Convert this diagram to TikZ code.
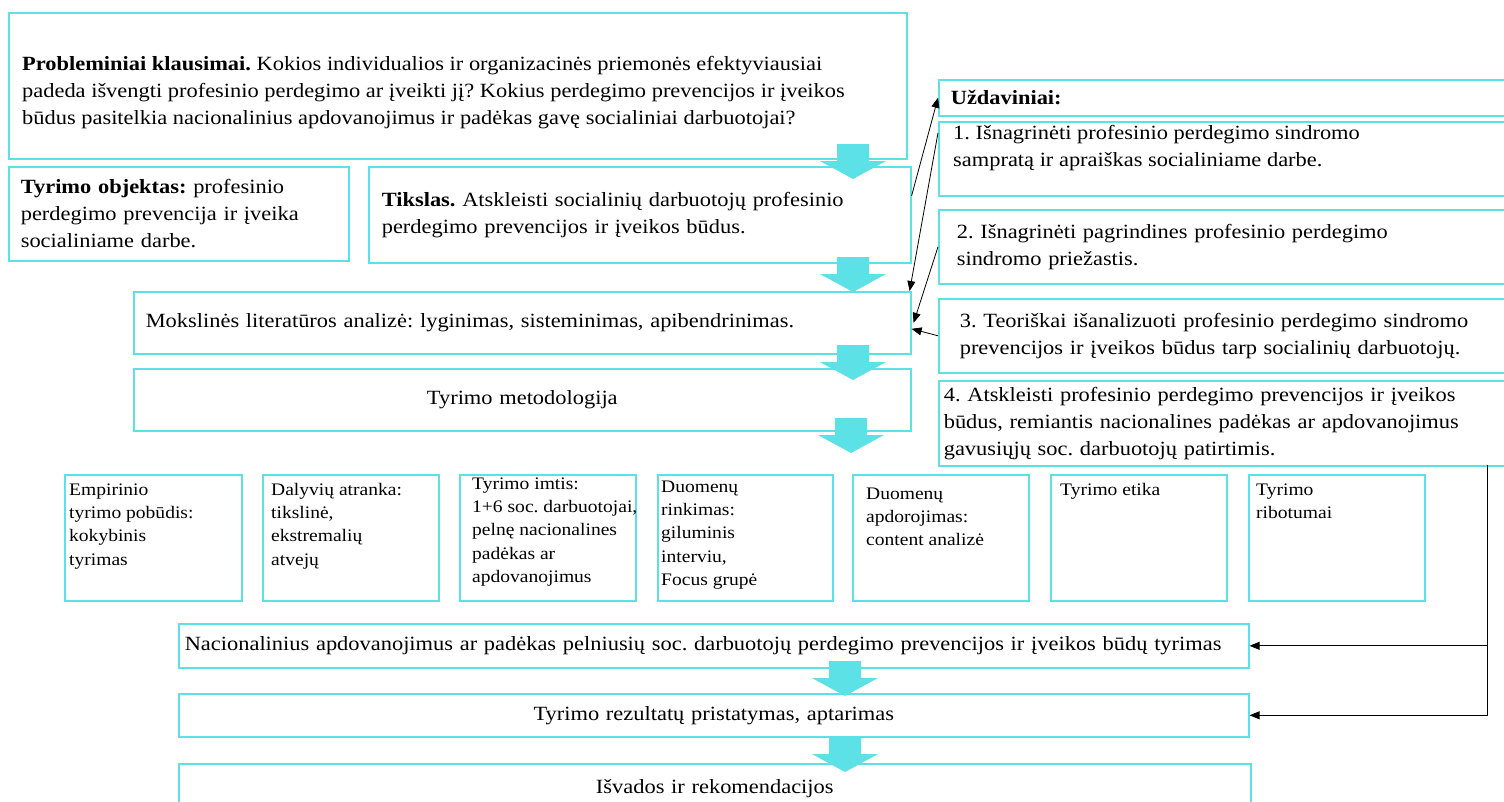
\documentclass[tikz,border=0pt]{standalone}
\usepackage{fontspec}
\setmainfont{Liberation Serif}[FakeStretch=1.11]
\usetikzlibrary{arrows.meta}
\definecolor{aqua}{HTML}{5CE1E6}
\newcommand\bigfont{\fontsize{20.2}{27}\selectfont}
\newcommand\smallfont{\fontsize{17.6}{23.4}\selectfont}
\frenchspacing
\begin{document}
\begin{tikzpicture}[x=1pt,y=-1pt,
  frame/.style={draw=aqua, line width=1.6pt, rectangle, inner sep=0pt, anchor=north west},
  big/.style={frame, font=\bigfont},
  cell/.style={frame, minimum height=126pt},
  btext/.style={inner sep=0pt, anchor=base west, font=\bigfont},
  ctext/.style={inner sep=0pt, anchor=base west, font=\smallfont},
  conn/.style={draw=black, line width=0.8pt, -{Triangle[length=10pt,width=8pt]}},
  downarrow/.pic={\fill[aqua] (-16,0) -- (16,0) -- (16,17) -- (33,17) -- (0,35) -- (-33,17) -- (-16,17) -- cycle;}
]
\useasboundingbox (0,0) rectangle (1504,801);

% --- left column: questions, object, aim, methods
\node[big, minimum width=898pt, minimum height=146pt] (prob) at (8,12) {};
\node[btext] (probtext) at ([shift={(14,58.5)}]prob.north west)
  {\parbox[t]{880pt}{\textbf{Probleminiai klausimai.} Kokios individualios ir organizacinės priemonės efektyviausiai\\
   padeda išvengti profesinio perdegimo ar įveikti jį? Kokius perdegimo prevencijos ir įveikos\\
   būdus pasitelkia nacionalinius apdovanojimus ir padėkas gavę socialiniai darbuotojai?}};

\node[big, minimum width=340pt, minimum height=94pt, inner xsep=12pt, text width=316pt, align=left] (obj) at (8,166)
  {\textbf{Tyrimo objektas:} profesinio\\ perdegimo prevencija ir įveika\\ socialiniame darbe.};

\node[big, minimum width=542pt, minimum height=96pt, inner xsep=13pt, text width=516pt, align=left] (tik) at (368,166)
  {\textbf{Tikslas.} Atskleisti socialinių darbuotojų profesinio\\ perdegimo prevencijos ir įveikos būdus.};

\node[big, minimum width=777pt, minimum height=62pt, inner xsep=12pt, text width=753pt, align=left] (moks) at (133,291)
  {Mokslinės literatūros analizė: lyginimas, sisteminimas, apibendrinimas.};

\node[big, minimum width=777pt, minimum height=62pt, inner xsep=12pt, text width=753pt, align=center] (metod) at (133,368)
  {Tyrimo metodologija};

% --- right column: tasks
\node[big, minimum width=582pt, minimum height=36pt, inner xsep=12pt, text width=558pt, align=left] (uzd) at (938,79)
  {\textbf{Uždaviniai:}};
\node[big, minimum width=582pt, minimum height=74pt] (t1) at (938,121) {};
\node[btext] (t1text) at ([shift={(15,18.5)}]t1.north west)
  {\parbox[t]{560pt}{1. Išnagrinėti profesinio perdegimo sindromo\\ sampratą ir apraiškas socialiniame darbe.}};
\node[big, minimum width=582pt, minimum height=74pt, inner xsep=18pt, text width=546pt, align=left] (t2) at (938,209)
  {2. Išnagrinėti pagrindines profesinio perdegimo\\ sindromo priežastis.};
\node[big, minimum width=582pt, minimum height=74pt, inner xsep=21pt, text width=540pt, align=left] (t3) at (938,298)
  {3. Teoriškai išanalizuoti profesinio perdegimo sindromo\\ prevencijos ir įveikos būdus tarp socialinių darbuotojų.};
\node[big, minimum width=582pt, minimum height=85pt, inner xsep=5pt, text width=572pt, align=left] (t4) at (938,380)
  {4. Atskleisti profesinio perdegimo prevencijos ir įveikos\\ būdus, remiantis nacionalines padėkas ar apdovanojimus\\ gavusiųjų soc. darbuotojų patirtimis.};

% --- methodology cells
\node[cell, minimum width=177pt] (c1) at (64,474) {};
\node[ctext] (c1text) at ([shift={(5,21)}]c1.north west)
  {\parbox[t]{170pt}{Empirinio\\ tyrimo pobūdis:\\ kokybinis\\ tyrimas}};
\node[cell, minimum width=176pt] (c2) at (262,474) {};
\node[ctext] (c2text) at ([shift={(9,21)}]c2.north west)
  {\parbox[t]{170pt}{Dalyvių atranka:\\ tikslinė,\\ ekstremalių\\ atvejų}};
\node[cell, minimum width=176pt] (c3) at (459,474) {};
\node[ctext] (c3text) at ([shift={(13,15)}]c3.north west)
  {\parbox[t]{170pt}{Tyrimo imtis:\\ 1+6 soc. darbuotojai,\\ pelnę nacionalines\\ padėkas ar\\ apdovanojimus}};
\node[cell, minimum width=175pt] (c4) at (657,474) {};
\node[ctext] (c4text) at ([shift={(4,18)}]c4.north west)
  {\parbox[t]{170pt}{Duomenų\\ rinkimas:\\ giluminis\\ interviu,\\ Focus grupė}};
\node[cell, minimum width=176pt] (c5) at (852,474) {};
\node[ctext] (c5text) at ([shift={(14,25)}]c5.north west)
  {\parbox[t]{170pt}{Duomenų\\ apdorojimas:\\ content analizė}};
\node[cell, minimum width=176pt] (c6) at (1050,474) {};
\node[ctext] (c6text) at ([shift={(10,21)}]c6.north west)
  {\parbox[t]{170pt}{Tyrimo etika}};
\node[cell, minimum width=176pt] (c7) at (1248,474) {};
\node[ctext] (c7text) at ([shift={(8,21)}]c7.north west)
  {\parbox[t]{170pt}{Tyrimo\\ ribotumai}};

% --- study, results, conclusions
\node[big, minimum width=1070pt, minimum height=44pt, inner xsep=6pt, text width=1058pt, align=left] (nac) at (178,623)
  {Nacionalinius apdovanojimus ar padėkas pelniusių soc. darbuotojų perdegimo prevencijos ir įveikos būdų tyrimas};
\node[big, minimum width=1070pt, minimum height=43pt, inner xsep=6pt, text width=1058pt, align=center] (rez) at (178,693)
  {Tyrimo rezultatų pristatymas, aptarimas};
\node[big, minimum width=1072pt, minimum height=49pt, inner xsep=6pt, text width=1060pt, align=center] (isv) at (178,763)
  {Išvados ir rekomendacijos};

% --- flow arrows
\pic at (853,144) {downarrow};
\pic at (853,257) {downarrow};
\pic at (853,345) {downarrow};
\pic at (851,418) {downarrow};
\pic at (845,661) {downarrow};
\pic at (845,737) {downarrow};

% --- connectors between aim, tasks and literature analysis
\draw[conn] ([yshift=19pt]tik.east) -- (uzd.west);
\draw[conn] ([yshift=26pt]t1.west) -- ([xshift=-2pt]moks.north east);
\draw[conn] (t2.west) -- ([xshift=2pt]moks.east);
\draw[conn] (t3.west) -- ([yshift=-6pt]moks.east);

% --- task 4 feeds the empirical study and the results
\coordinate (bus) at (1487,465);
\draw[conn] (bus) |- (nac.east);
\draw[conn] (bus) |- (rez.east);
\end{tikzpicture}
\end{document}
